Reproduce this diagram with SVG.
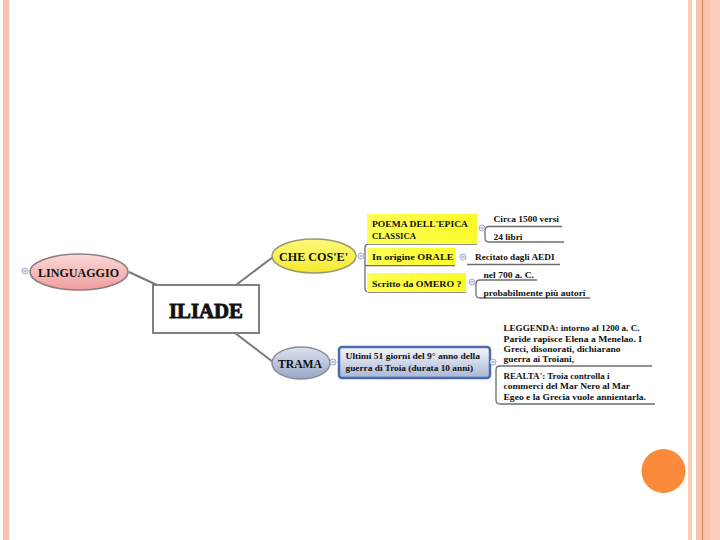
<svg xmlns="http://www.w3.org/2000/svg" width="720" height="540" viewBox="0 0 720 540">
<defs>
<linearGradient id="gPink" x1="0" y1="0" x2="0" y2="1"><stop offset="0" stop-color="#fcd9d9"/><stop offset="1" stop-color="#ef9d9d"/></linearGradient>
<linearGradient id="gYel" x1="0" y1="0" x2="0" y2="1"><stop offset="0" stop-color="#fdf97a"/><stop offset="1" stop-color="#f3ea2e"/></linearGradient>
<linearGradient id="gBlue" x1="0" y1="0" x2="0" y2="1"><stop offset="0" stop-color="#dde3ef"/><stop offset="1" stop-color="#98a6c6"/></linearGradient>
<linearGradient id="gBox" x1="0" y1="0" x2="0" y2="1"><stop offset="0" stop-color="#f4f6fb"/><stop offset="1" stop-color="#a9b7d6"/></linearGradient>
<linearGradient id="gSub" x1="0" y1="0" x2="1" y2="0"><stop offset="0" stop-color="#ffff55"/><stop offset="1" stop-color="#fbfb2a"/></linearGradient>
</defs>
<style>
.t{font-family:"Liberation Serif","DejaVu Serif",serif;font-weight:700;fill:#111;}
.s{font-size:9px;}
.con{fill:none;stroke:#7a7a7a;stroke-width:2;}
.ul{fill:none;stroke:#6e6e6e;stroke-width:1.3;}
.cb{fill:#eef2f8;stroke:#8a9abb;stroke-width:0.8;}
.cm{stroke:#6a7a9b;stroke-width:0.8;}
.sub{fill:url(#gSub);}
</style>
<rect width="720" height="540" fill="#ffffff"/>
<!-- frame -->
<rect x="3" y="0" width="6" height="540" fill="#f8c3ad"/>
<rect x="688" y="0" width="4" height="540" fill="#f9cdb9"/>
<rect x="696" y="0" width="24" height="540" fill="#fcc3ac"/>
<rect x="710" y="0" width="10" height="540" fill="#ffcbbd"/>
<line x1="702.5" y1="0" x2="702.5" y2="540" stroke="#d38a5f" stroke-width="1.2"/>
<circle cx="663.5" cy="471" r="22" fill="#fb8a3a"/>

<g id="connectors">
<line class="con" x1="129" y1="272" x2="157" y2="285"/>
<line class="con" x1="236" y1="285" x2="273" y2="257"/>
<line class="con" x1="235" y1="333" x2="273" y2="362"/>
<path class="ul" d="M477 244 H369 Q365 244 365 248 V288 Q365 292 369 292 H466"/>
<path class="ul" d="M365 265.5 H455"/>
<path class="ul" d="M562 226.5 H489 Q485 226.5 485 230.5 V238 Q485 242 489 242 H564"/>
<path class="ul" d="M467 264.5 H560"/>
<path class="ul" d="M537 280 H480 Q476 280 476 284 V294 Q476 298 480 298 H590"/>
<path class="ul" d="M652 366 H500 Q496 366 496 370 V400 Q496 404 500 404 H655"/>
</g>

<g id="linguaggio">
<ellipse cx="79" cy="272" rx="49" ry="18" fill="url(#gPink)" stroke="#8c7c7c" stroke-width="1.5"/>
<text class="t" x="38" y="276.5" font-size="13.5" textLength="81" lengthAdjust="spacingAndGlyphs">LINGUAGGIO</text>
<circle class="cb" cx="25" cy="271" r="3"/><line class="cm" x1="23.5" y1="271" x2="26.5" y2="271"/>
</g>

<g id="iliade">
<rect x="153" y="285" width="106" height="48" fill="#ffffff" stroke="#808080" stroke-width="2"/>
<text class="t" x="169" y="317.5" font-size="21" textLength="74" lengthAdjust="spacingAndGlyphs" stroke="#111" stroke-width="0.9">ILIADE</text>
</g>

<g id="checose">
<ellipse cx="314" cy="256" rx="42" ry="17" fill="url(#gYel)" stroke="#9a9870" stroke-width="1.5"/>
<text class="t" x="279" y="261" font-size="13" textLength="69" lengthAdjust="spacingAndGlyphs">CHE COS'E'</text>
<circle class="cb" cx="361" cy="256" r="3"/><line class="cm" x1="359.5" y1="256" x2="362.5" y2="256"/>
</g>

<g id="poema">
<rect class="sub" x="367" y="214" width="110" height="30"/>
<text class="t s" x="372" y="226.5" textLength="96" lengthAdjust="spacingAndGlyphs">POEMA DELL'EPICA</text>
<text class="t s" x="372" y="238.5" textLength="44" lengthAdjust="spacingAndGlyphs">CLASSICA</text>
<circle class="cb" cx="482" cy="228" r="3"/><line class="cm" x1="480.5" y1="228" x2="483.5" y2="228"/>
</g>
<g id="circa">
<text class="t s" x="493.5" y="222" textLength="65.5" lengthAdjust="spacingAndGlyphs">Circa 1500 versi</text>
</g>
<g id="libri">
<text class="t s" x="493.5" y="239.5" textLength="29" lengthAdjust="spacingAndGlyphs">24 libri</text>
</g>

<g id="orale">
<rect class="sub" x="367" y="248" width="88" height="17"/>
<text class="t s" x="372" y="259.5" textLength="81.5" lengthAdjust="spacingAndGlyphs">In origine ORALE</text>
<circle class="cb" cx="463" cy="257" r="3"/><line class="cm" x1="461.5" y1="257" x2="464.5" y2="257"/>
</g>
<g id="recitato">
<text class="t s" x="475" y="259.5" textLength="79.5" lengthAdjust="spacingAndGlyphs">Recitato dagli AEDI</text>
</g>

<g id="scritto">
<rect class="sub" x="367" y="273" width="99" height="19"/>
<text class="t s" x="372" y="286.5" textLength="89.5" lengthAdjust="spacingAndGlyphs">Scritto da OMERO ?</text>
<circle class="cb" cx="472" cy="282" r="3"/><line class="cm" x1="470.5" y1="282" x2="473.5" y2="282"/>
</g>
<g id="nel700">
<text class="t s" x="483.5" y="277.5" textLength="50.5" lengthAdjust="spacingAndGlyphs">nel 700 a. C.</text>
</g>
<g id="probabilmente">
<text class="t s" x="483.5" y="295.5" textLength="102" lengthAdjust="spacingAndGlyphs">probabilmente più autori</text>
</g>

<g id="trama">
<ellipse cx="301" cy="363" rx="29" ry="16" fill="url(#gBlue)" stroke="#8a8c99" stroke-width="1.5"/>
<text class="t" x="278" y="367.5" font-size="12.5" textLength="44" lengthAdjust="spacingAndGlyphs">TRAMA</text>
<circle class="cb" cx="333" cy="362" r="3"/><line class="cm" x1="331.5" y1="362" x2="334.5" y2="362"/>
</g>

<g id="ultimi">
<rect x="339" y="347" width="151" height="31" rx="3" fill="url(#gBox)" stroke="#4a6bb0" stroke-width="2.5"/>
<text class="t s" x="345.5" y="359" textLength="134.5" lengthAdjust="spacingAndGlyphs">Ultimi 51 giorni del 9° anno della</text>
<text class="t s" x="345.5" y="370.5" textLength="127.5" lengthAdjust="spacingAndGlyphs">guerra di Troia (durata 10 anni)</text>
<circle class="cb" cx="493" cy="362" r="3"/><line class="cm" x1="491.5" y1="362" x2="494.5" y2="362"/>
</g>

<g id="leggenda">
<text class="t s" x="503.5" y="331" textLength="136" lengthAdjust="spacingAndGlyphs">LEGGENDA: intorno al 1200 a. C.</text>
<text class="t s" x="503.5" y="341.5" textLength="138.5" lengthAdjust="spacingAndGlyphs">Paride rapisce Elena a Menelao. I</text>
<text class="t s" x="503.5" y="351.5" textLength="117" lengthAdjust="spacingAndGlyphs">Greci, disonorati, dichiarano</text>
<text class="t s" x="503.5" y="361.5" textLength="70.5" lengthAdjust="spacingAndGlyphs">guerra ai Troiani,</text>
</g>

<g id="realta">
<text class="t s" x="503.5" y="379" textLength="106" lengthAdjust="spacingAndGlyphs">REALTA': Troia controlla i</text>
<text class="t s" x="503.5" y="389" textLength="126.5" lengthAdjust="spacingAndGlyphs">commerci del Mar Nero al Mar</text>
<text class="t s" x="503.5" y="399.5" textLength="142.5" lengthAdjust="spacingAndGlyphs">Egeo e la Grecia vuole annientarla.</text>
</g>
</svg>
